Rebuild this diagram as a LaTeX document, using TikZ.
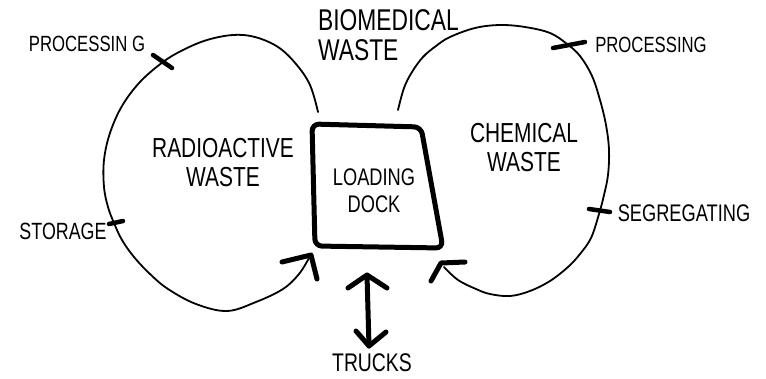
\documentclass[tikz,border=0pt]{standalone}
\usepackage{fontspec}
\newfontfamily\hand[FakeStretch=0.76]{Liberation Sans}
\begin{document}
\begin{tikzpicture}[x=1pt,y=-1pt,
  loopline/.style={line width=1.8pt, line cap=round, line join=round},
  heavy/.style={line width=5pt, line cap=round, line join=round},
  tickmark/.style={line width=4.5pt, line cap=round},
  biglabel/.style={font=\hand\fontsize{27.5}{29}\selectfont, align=center, inner sep=0pt},
  smalllabel/.style={font=\hand\fontsize{22}{24}\selectfont, inner sep=0pt}]
\useasboundingbox (0,0) rectangle (766,378);

% loading dock outline
\coordinate (d1) at (312,124);
\coordinate (d2) at (421,127);
\coordinate (d3) at (443,248);
\coordinate (d4) at (315,246);
\draw[heavy, rounded corners=7pt] (d1) -- (d2) -- (d3) -- (d4) -- cycle;
\node[biglabel, font=\hand\fontsize{24}{27}\selectfont] (dock) at (374,191) {LOADING\\DOCK};

% radioactive waste loop
\coordinate (rstart) at (318,112);
\coordinate (rtip) at (311,255);
\draw[loopline] plot[smooth, tension=0.6] coordinates {
  (318,112) (310,85) (296,64) (278,47) (255,37) (233,35) (207,40) (183,50)
  (163,62) (140,82) (122,106) (110,133) (104,160) (104,187) (108,207)
  (114,223) (122,240) (134,257) (150,274) (168,289) (196,304) (227,311)
  (256,302) (283,289) (299,274) (309,258)};
\draw[heavy] (282,262) -- (rtip) -- (317,279);
\node[biglabel] (radio) at (223,163) {RADIOACTIVE\\WASTE};

% chemical waste loop
\coordinate (cstart) at (398,110);
\coordinate (ctip) at (441,263);
\draw[loopline] plot[smooth, tension=0.6] coordinates {
  (398,110) (404,88) (412,72) (423,57) (436,46) (450,37) (475,28) (500,25)
  (525,27) (550,33) (567,44) (580,56) (592,76) (600,100) (606,125)
  (609,150) (608,175) (604,195) (599,214) (591,238) (580,254) (568,267)
  (550,281) (530,291) (510,296) (490,294) (476,289) (458,280) (444,267)};
\draw[heavy] (431,281) -- (ctip) -- (465,262);
\node[biglabel] (chem) at (524,148) {CHEMICAL\\WASTE};

% biomedical waste label
\node[biglabel, font=\hand\fontsize{30}{30}\selectfont, align=left, anchor=north west] (bio) at (318,9) {BIOMEDICAL\\WASTE};

% process marks on the loops
\draw[tickmark] (153,55) -- (172,68);
\node[smalllabel] (proc1) at (87,44) {PROCESSIN G};
\draw[tickmark] (109,224) -- (123,221);
\node[smalllabel, font=\hand\fontsize{23.5}{24}\selectfont] (storage) at (63,231) {STORAGE};
\draw[tickmark] (553,48) -- (585,42);
\node[smalllabel] (proc2) at (651,45) {PROCESSING};
\draw[tickmark] (589,209) -- (610,212);
\node[smalllabel, font=\hand\fontsize{24}{24}\selectfont] (segreg) at (684,213) {SEGREGATING};

% trucks in and out of the dock
\node[biglabel, font=\hand\fontsize{25.5}{27}\selectfont] (trucks) at (372,363) {TRUCKS};
\coordinate (tup) at (367,275);
\coordinate (tdown) at (369,346);
\draw[heavy] (tup) -- (tdown);
\draw[heavy] (348,288) -- (tup) -- (387,288);
\draw[heavy] (356,331) -- (tdown) -- (386,332);
\end{tikzpicture}
\end{document}
